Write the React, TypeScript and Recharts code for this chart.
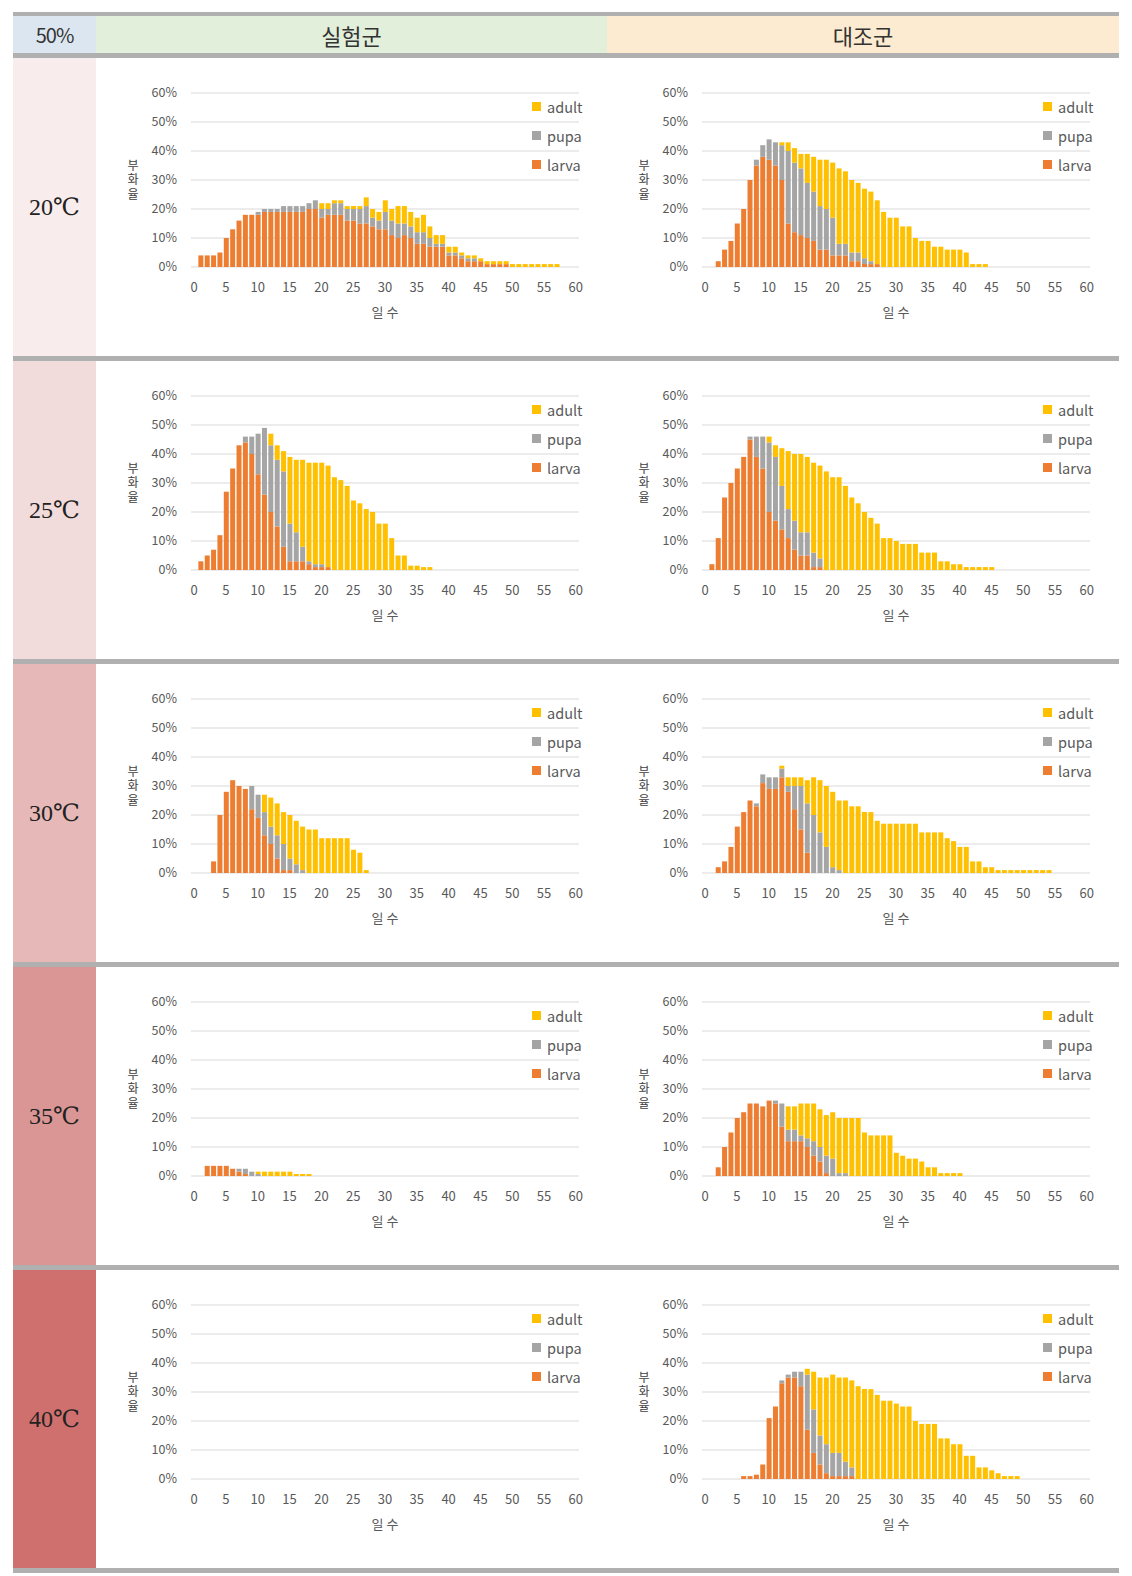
import { BarChart, Bar, XAxis, YAxis, CartesianGrid, Legend } from "recharts";

// categories (days) and axis ticks
const days = [
  0, 1, 2, 3, 4, 5, 6, 7, 8, 9, 10, 11, 12, 13, 14, 15, 16, 17, 18, 19, 20,
  21, 22, 23, 24, 25, 26, 27, 28, 29, 30, 31, 32, 33, 34, 35, 36, 37, 38, 39, 40,
  41, 42, 43, 44, 45, 46, 47, 48, 49, 50, 51, 52, 53, 54, 55, 56, 57, 58, 59, 60,
];
const yTicks = [0, 10, 20, 30, 40, 50, 60];
const temps = ["20℃", "25℃", "30℃", "35℃", "40℃"];

// values are % per day (index = day), stacked larva / pupa / adult
// 20℃
const exp20Larva = [0, 4, 4, 4, 5, 10, 13, 16, 18, 18, 18, 19, 19, 19, 19, 19, 19, 19, 20, 20, 17, 18, 18, 18, 16, 16, 15, 15, 14, 13, 13, 11, 10, 11, 10, 8, 8, 7, 7, 7, 4, 4, 3, 2, 2, 2, 1, 1, 1, 1];
const exp20Pupa = [0, 0, 0, 0, 0, 0, 0, 0, 0, 0, 1, 1, 1, 1, 2, 2, 2, 2, 2, 3, 3, 2, 4, 4, 4, 4, 5, 6, 3, 3, 6, 5, 5, 4, 4, 4, 4, 3, 1, 1, 1, 1, 1, 1, 1];
const exp20Adult = [0, 0, 0, 0, 0, 0, 0, 0, 0, 0, 0, 0, 0, 0, 0, 0, 0, 0, 0, 0, 2, 2, 1, 1, 1, 1, 1, 3, 3, 3, 4, 4, 6, 6, 5, 5, 6, 4, 3, 3, 2, 2, 1, 1, 1, 1, 1, 1, 1, 1, 1, 1, 1, 1, 1, 1, 1, 1];
const ctl20Larva = [0, 0, 2, 6, 9, 15, 20, 30, 35, 38, 37, 35, 30, 15, 12, 11, 10, 9, 6, 6, 4, 4, 4, 2, 2, 1, 1, 1];
const ctl20Pupa = [0, 0, 0, 0, 0, 0, 0, 0, 2, 4, 7, 8, 12, 25, 24, 23, 19, 17, 15, 14, 13, 4, 4, 3, 3, 2, 1];
const ctl20Adult = [0, 0, 0, 0, 0, 0, 0, 0, 0, 0, 0, 0, 1, 3, 5, 5, 10, 12, 16, 17, 19, 26, 25, 25, 24, 24, 24, 22, 19, 17, 17, 14, 14, 10, 9, 9, 7, 7, 6, 6, 6, 5, 1, 1, 1];

// 25℃
const exp25Larva = [0, 3, 5, 7, 12, 27, 35, 43, 44, 40, 33, 26, 20, 15, 8, 3, 3, 3, 2, 1, 1, 1];
const exp25Pupa = [0, 0, 0, 0, 0, 0, 0, 0, 2, 6, 14, 23, 23, 23, 26, 13, 10, 5, 1, 1, 1];
const exp25Adult = [0, 0, 0, 0, 0, 0, 0, 0, 0, 0, 0, 0, 4, 5, 7, 23, 25, 30, 34, 35, 35, 35, 32, 31, 29, 24, 23, 21, 20, 16, 16, 11, 5, 5, 1.5, 1.5, 1, 1];
const ctl25Larva = [0, 2, 11, 25, 30, 35, 39, 45, 39, 35, 20, 17, 14, 11, 7, 5, 5, 1, 1];
const ctl25Pupa = [0, 0, 0, 0, 0, 0, 0, 1, 7, 11, 24, 22, 15, 10, 10, 8, 8, 5, 3];
const ctl25Adult = [0, 0, 0, 0, 0, 0, 0, 0, 0, 0, 2, 4, 13, 20, 23, 27, 26, 31, 32, 34, 32, 32, 29, 25, 23, 20, 18, 16, 11, 11, 10, 9, 9, 9, 6, 6, 6, 3, 3, 2, 2, 1, 1, 1, 1, 1];

// 30℃
const exp30Larva = [0, 0, 0, 4, 20, 28, 32, 30, 29, 22, 19, 13, 10, 5, 1, 1];
const exp30Pupa = [0, 0, 0, 0, 0, 0, 0, 0, 0, 8, 8, 8, 6, 8, 9, 4, 3, 1];
const exp30Adult = [0, 0, 0, 0, 0, 0, 0, 0, 0, 0, 0, 6, 10, 11, 11, 15, 15, 15, 15, 15, 12, 12, 12, 12, 12, 8, 7, 1];
const ctl30Larva = [0, 0, 2, 4, 9, 16, 21, 25, 23, 31, 29, 29, 33, 28, 22, 15, 7];
const ctl30Pupa = [0, 0, 0, 0, 0, 0, 0, 0, 1, 3, 4, 4, 3, 2, 8, 15, 17, 20, 14, 9, 2, 1];
const ctl30Adult = [0, 0, 0, 0, 0, 0, 0, 0, 0, 0, 0, 0, 1, 3, 3, 3, 8, 13, 18, 21, 26, 24, 25, 23, 23, 21, 21, 18, 17, 17, 17, 17, 17, 17, 14, 14, 14, 14, 12, 11, 9, 9, 4, 4, 2, 2, 1, 1, 1, 1, 1, 1, 1, 1, 1];

// 35℃
const exp35Larva = [0, 0, 3.5, 3.5, 3.5, 3.5, 2.5, 1.5, 0.7];
const exp35Pupa = [0, 0, 0, 0, 0, 0, 0, 1, 1.8, 1.5, 0.7];
const exp35Adult = [0, 0, 0, 0, 0, 0, 0, 0, 0, 0, 0.8, 1.5, 1.5, 1.5, 1.5, 1.5, 0.7, 0.7, 0.7];
const ctl35Larva = [0, 0, 3, 10, 15, 20, 22, 25, 25, 24, 26, 25, 17, 12, 12, 12, 10, 7, 5, 1];
const ctl35Pupa = [0, 0, 0, 0, 0, 0, 0, 0, 0, 0, 0, 1, 8, 4, 4, 2, 3, 5, 5, 6, 6, 1, 1];
const ctl35Adult = [0, 0, 0, 0, 0, 0, 0, 0, 0, 0, 0, 0, 0, 8, 8, 11, 12, 13, 13, 14, 16, 19, 19, 20, 20, 15, 14, 14, 14, 14, 8, 7, 6, 6, 5, 3, 3, 1, 1, 1, 1];

// 40℃ (experimental group had no hatching)
const exp40Larva: number[] = [];
const exp40Pupa: number[] = [];
const exp40Adult: number[] = [];
const ctl40Larva = [0, 0, 0, 0, 0, 0, 1, 1, 1.5, 5, 21, 25, 33, 35, 35, 32, 17, 9, 5, 2, 1, 1, 1, 1];
const ctl40Pupa = [0, 0, 0, 0, 0, 0, 0, 0, 0, 0, 0, 0, 1, 1, 2, 5, 19, 15, 10, 10, 8, 8, 5, 3];
const ctl40Adult = [0, 0, 0, 0, 0, 0, 0, 0, 0, 0, 0, 0, 0, 0, 0, 0, 2, 13, 20, 23, 27, 26, 29, 30, 32, 31, 31, 29, 27, 27, 26, 25, 25, 20, 19, 19, 19, 14, 14, 12, 12, 8, 8, 4, 4, 3, 2, 1, 1, 1];

const LARVA = "#ED7D31";
const PUPA = "#A5A5A5";
const ADULT = "#FFC000";
const BORDER = "#b0b0b0";
const TXT = "#595959";
const KR = '"Noto Sans CJK KR", "Noto Sans", sans-serif';

const rowColors = ["#f9ecec", "#f2dcdb", "#e6b9b8", "#da9694", "#d0706e"];

const build = (larva: number[], pupa: number[], adult: number[]) =>
  days.map((d) => ({
    day: d,
    larva: larva[d] ?? 0,
    pupa: pupa[d] ?? 0,
    adult: adult[d] ?? 0,
  }));

const rows = [
  { exp: build(exp20Larva, exp20Pupa, exp20Adult), ctl: build(ctl20Larva, ctl20Pupa, ctl20Adult) },
  { exp: build(exp25Larva, exp25Pupa, exp25Adult), ctl: build(ctl25Larva, ctl25Pupa, ctl25Adult) },
  { exp: build(exp30Larva, exp30Pupa, exp30Adult), ctl: build(ctl30Larva, ctl30Pupa, ctl30Adult) },
  { exp: build(exp35Larva, exp35Pupa, exp35Adult), ctl: build(ctl35Larva, ctl35Pupa, ctl35Adult) },
  { exp: build(exp40Larva, exp40Pupa, exp40Adult), ctl: build(ctl40Larva, ctl40Pupa, ctl40Adult) },
];

const legendItems = [
  { name: "adult", color: ADULT },
  { name: "pupa", color: PUPA },
  { name: "larva", color: LARVA },
];

const renderLegend = () => (
  <div>
    {legendItems.map((it) => (
      <div key={it.name} style={{ display: "flex", alignItems: "center", height: 29 }}>
        <span style={{ display: "inline-block", width: 9, height: 9, background: it.color, marginRight: 6 }} />
        <span style={{ fontSize: 14.5, color: TXT, lineHeight: "16px" }}>{it.name}</span>
      </div>
    ))}
  </div>
);

const YTitle = (props: any) => {
  const { viewBox } = props;
  const cx = viewBox.x + 37;
  const cy = viewBox.y + viewBox.height / 2;
  const chars = ["부", "화", "율"];
  return (
    <text x={cx} y={cy} textAnchor="middle" fontSize={12} fill="#404040">
      {chars.map((c, i) => (
        <tspan key={i} x={cx} y={cy + (i - 1) * 14.5} dy="0.35em">
          {c}
        </tspan>
      ))}
    </text>
  );
};

const StageChart = ({ data, width }: { data: any[]; width: number }) => (
  <BarChart
    width={width}
    height={298}
    data={data}
    margin={{ top: 35, right: width - 483, left: 0, bottom: 59 }}
    barSize={5}
  >
    <CartesianGrid vertical={false} stroke="#d9d9d9" />
    <XAxis
      dataKey="day"
      interval={4}
      axisLine={false}
      tickLine={false}
      tickSize={0}
      tickMargin={16}
      height={30}
      tick={{ fontSize: 13, fill: TXT }}
      label={{ value: "일 수", position: "bottom", offset: 11, fontSize: 13, fill: TXT }}
    />
    <YAxis
      domain={[0, 60]}
      ticks={yTicks}
      width={95}
      axisLine={false}
      tickLine={false}
      tickSize={0}
      tickMargin={14}
      tickFormatter={(v) => `${v}%`}
      tick={{ fontSize: 12.5, fill: TXT }}
      label={<YTitle />}
    />
    <Legend
      layout="vertical"
      align="center"
      verticalAlign="middle"
      content={renderLegend}
      wrapperStyle={{ left: 436, top: 34, width: 75 }}
    />
    <Bar dataKey="larva" name="larva" stackId="s" fill={LARVA} isAnimationActive={false} />
    <Bar dataKey="pupa" name="pupa" stackId="s" fill={PUPA} isAnimationActive={false} />
    <Bar dataKey="adult" name="adult" stackId="s" fill={ADULT} isAnimationActive={false} />
  </BarChart>
);

const center: React.CSSProperties = {
  display: "flex",
  alignItems: "center",
  justifyContent: "center",
};

const App = () => (
  <div style={{ position: "absolute", left: 13, top: 12, width: 1106, fontFamily: KR }}>
    <div style={{ height: 4, background: BORDER }} />
    <div style={{ display: "flex", height: 37 }}>
      <div style={{ ...center, width: 83, background: "#dce6f1", fontSize: 20, color: "#333", letterSpacing: -1 }}>
        50%
      </div>
      <div style={{ ...center, width: 511, background: "#e2efda", fontSize: 22, color: "#333" }}>실험군</div>
      <div style={{ ...center, width: 512, background: "#fcebd0", fontSize: 22, color: "#333" }}>대조군</div>
    </div>
    <div style={{ height: 5, background: BORDER }} />
    {rows.map((r, i) => (
      <div key={temps[i]}>
        <div style={{ display: "flex", height: 298 }}>
          <div
            style={{
              ...center,
              width: 83,
              background: rowColors[i],
              fontFamily: '"Liberation Serif", "DejaVu Serif", serif',
              fontSize: 24,
              color: "#222",
            }}
          >
            {temps[i]}
          </div>
          <div style={{ width: 511, background: "#fff", position: "relative" }}>
            <StageChart data={r.exp} width={511} />
          </div>
          <div style={{ width: 512, background: "#fff", position: "relative" }}>
            <StageChart data={r.ctl} width={512} />
          </div>
        </div>
        <div style={{ height: 5, background: BORDER }} />
      </div>
    ))}
  </div>
);

export default App;
